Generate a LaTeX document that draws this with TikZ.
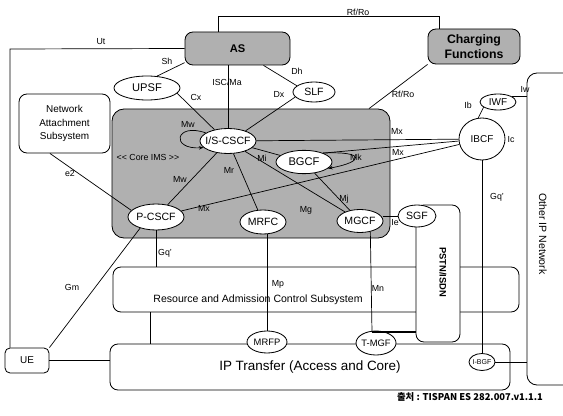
\documentclass[tikz,border=0pt]{standalone}
\usepackage{fontspec}
\setmainfont{Liberation Sans}
\newfontfamily\krfont{Noto Sans CJK KR}
\usetikzlibrary{shapes.geometric,arrows.meta}
\definecolor{hatch}{gray}{0.69}
\newcommand\zw[1]{\makebox[0pt]{#1}}
\begin{document}
\begin{tikzpicture}[x=0.3mm,y=-0.3mm,
  every node/.style={inner sep=0pt},
  ln/.style={line width=0.6pt},
  box/.style={draw, line width=0.7pt, rectangle, rounded corners=2.4mm, inner sep=0pt},
  hbox/.style={box, fill=hatch},
  ell/.style={draw, line width=0.7pt, ellipse, fill=white, inner sep=0pt, font=\fontsize{9}{10}\selectfont},
  lab/.style={font=\fontsize{7.5}{8}\selectfont},
  selfloop/.style={ln, -{Stealth[length=4pt,width=3pt]}}
]
\useasboundingbox (0,0) rectangle (563,416);
\fill[white] (0,0) rectangle (563,416);
% boxes
\node[box, minimum width=18.9mm, minimum height=93.6mm, rounded corners=3mm] (oipn) at (558.5,229) {};
\node[hbox, minimum width=31.5mm, minimum height=9.9mm, font=\fontsize{9.5}{11}\selectfont\bfseries] (as) at (237.5,48.5) {AS};
\node[hbox, minimum width=27.6mm, minimum height=10.5mm, align=center, font=\fontsize{10.5}{12.8}\selectfont\bfseries] (cf) at (474,46.5) {Charging\\Functions};
\node[box, minimum width=27.3mm, minimum height=17.7mm, align=center, font=\fontsize{8.5}{11.5}\selectfont] (nas) at (64.5,123.5) {Network\\Attachment\\Subsystem};
\node[hbox, minimum width=83.4mm, minimum height=38.7mm, rounded corners=3.6mm] (core) at (251,173.5) {};
\node[box, minimum width=121.8mm, minimum height=13.5mm] (racs) at (316,289.5) {};
\node[box, minimum width=120mm, minimum height=13.8mm, font=\fontsize{11.5}{13}\selectfont] (ip) at (310,367) {IP Transfer (Access and Core)};
\node[box, fill=white, minimum width=13.2mm, minimum height=41.1mm] (pstn) at (438,273.5) {};
\node[box, rounded corners=1.5mm, minimum width=13.2mm, minimum height=7.5mm, font=\fontsize{8.5}{10}\selectfont] (ue) at (27,360.5) {UE};
% ellipses
\node[ell, minimum width=19.8mm, minimum height=7.2mm, font=\fontsize{9.5}{10}\selectfont] (upsf) at (147,88) {\zw{UPSF}};
\node[ell, minimum width=12.6mm, minimum height=6mm] (slf) at (314,92) {\zw{SLF}};
\node[ell, minimum width=10.8mm, minimum height=4.8mm, font=\fontsize{8.5}{9}\selectfont] (iwf) at (498,102) {\zw{IWF}};
\node[ell, minimum width=16.8mm, minimum height=7.5mm] (iscscf) at (228,141) {\zw{I/S-CSCF}};
\node[ell, minimum width=16.8mm, minimum height=7mm, font=\fontsize{9.5}{10}\selectfont] (bgcf) at (304,162) {\zw{BGCF}};
\node[ell, minimum width=16.8mm, minimum height=7.8mm] (pcscf) at (156,217) {\zw{P-CSCF}};
\node[ell, minimum width=13.8mm, minimum height=7.2mm] (mrfc) at (263,222) {\zw{MRFC}};
\node[ell, minimum width=13.8mm, minimum height=6.9mm] (mgcf) at (360,221) {\zw{MGCF}};
\node[ell, minimum width=11.4mm, minimum height=6.6mm] (sgf) at (417,216) {\zw{SGF}};
\node[ell, minimum width=13.8mm, minimum height=12.6mm, font=\fontsize{8.5}{9}\selectfont] (ibcf) at (482,139) {\zw{IBCF}};
\node[ell, minimum width=12mm, minimum height=6.6mm, font=\fontsize{8}{9}\selectfont] (mrfp) at (267,342) {\zw{MRFP}};
\node[ell, minimum width=12mm, minimum height=7.2mm, font=\fontsize{8}{9}\selectfont] (tmgf) at (376,343) {\zw{T-MGF}};
\node[ell, minimum width=7.8mm, minimum height=5.1mm, font=\fontsize{6}{7}\selectfont] (ibgf) at (482,362) {\zw{I-BGF}};
% connectors
\coordinate (utc) at (10,49);
\draw[ln] (as.west) -- (utc) -- (utc |- ue.north);
\coordinate (rfa) at (218,16);
\coordinate (rfb) at (439,16);
\draw[ln] (rfa |- as.north) -- (rfa) -- (rfb) -- (rfb |- cf.north);
\draw[ln] (as.195) -- (upsf.50);
\draw[ln] (upsf.-10) -- (iscscf.140);
\draw[ln] (iscscf.north |- as.south) -- (iscscf.north);
\draw[ln] (as.-33) -- (slf.160);
\draw[ln] (slf.195) -- (iscscf.30);
\draw[ln] (cf.south west) -- (369,0 |- core.north);
\draw[ln] (iwf.20) -- (iwf.20 -| oipn.west);
\draw[ln] (iwf.200) -- (ibcf.100);
\draw[ln] (iscscf) -- (ibcf);
\draw[ln] (bgcf.25) -- (ibcf.185);
\draw[ln] (pcscf) -- (ibcf);
\draw[ln] (iscscf) -- (bgcf);
\draw[ln] (iscscf) -- (pcscf);
\draw[ln] (iscscf) -- (mrfc);
\draw[ln] (iscscf) -- (mgcf);
\draw[ln] (bgcf) -- (mgcf);
\draw[ln] (sgf.west) -- (sgf.west -| mgcf.east);
\draw[ln] (nas.-116) -- (pcscf.165);
\draw[ln] (pcscf.215) -- (ue.north east);
\draw[ln] (pcscf.south) -- (pcscf.south |- racs.north);
\draw[ln] (ibcf.south) -- (ibgf.north);
\draw[ln] (ibgf.east) -- (ibgf.east -| oipn.west);
\draw[ln] (ue.east) -- (ue.east -| ip.west);
\coordinate (rx) at (150,0);
\draw[ln] (rx |- racs.south) -- (rx |- ip.north);
\draw[ln] (mrfp.north) -- (mrfp.north |- mrfc.south);
\coordinate (tj) at (372,332);
\draw[ln] (mgcf.-46) -- (tj);
\draw[line width=1.6pt] (tj) -- (tj -| pstn.west);
\draw[selfloop] (iscscf.160) .. controls (175,122) and (170,150) .. (iscscf.195);
\draw[selfloop] (bgcf.25) .. controls (366,151) and (364,162) .. (bgcf.-15);
% labels
\node[lab] (lUt) at (101,42) {Ut};
\node[lab] (lRf1) at (358,12) {Rf/Ro};
\node[lab] (lSh) at (167,61) {Sh};
\node[lab] (lISC) at (227,82) {ISC/Ma};
\node[lab] (lCx) at (196,97) {Cx};
\node[lab] (lDh) at (297,71) {Dh};
\node[lab] (lDx) at (279,94) {Dx};
\node[lab] (lRf2) at (403,94) {Rf/Ro};
\node[lab] (lIw) at (525,89) {Iw};
\node[lab] (lIb) at (468,105) {Ib};
\node[lab] (lMw1) at (188,124) {Mw};
\node[lab] (lcore) at (148,157) {<{}< Core IMS >{}>};
\node[lab] (lMi) at (262,158) {Mi};
\node[lab] (lMx1) at (397,131) {Mx};
\node[lab] (lMx2) at (398,152) {Mx};
\node[lab] (lMk) at (356,157) {Mk};
\node[lab] (lIc) at (511,140) {Ic};
\node[lab] (le2) at (70,173) {e2};
\node[lab] (lMw2) at (180,179) {Mw};
\node[lab] (lMr) at (229,170) {Mr};
\node[lab] (lMx3) at (204,208) {Mx};
\node[lab] (lMg) at (306,210) {Mg};
\node[lab] (lMj) at (344,199) {Mj};
\node[lab] (lIe) at (395,223) {Ie};
\node[lab] (lGq1) at (497,197) {Gq'};
\node[lab] (lGq2) at (165,253) {Gq'};
\node[lab] (lGm) at (72,287) {Gm};
\node[lab] (lMp) at (278,284) {Mp};
\node[lab] (lMn) at (378,288) {Mn};
% free texts
\node[font=\fontsize{9}{10}\selectfont] (racstxt) at (258,300) {Resource and Admission Control Subsystem};
\node[rotate=-90, font=\fontsize{9}{10}\selectfont] (oipntxt) at (543,234) {Other IP Network};
\node[rotate=-90, font=\fontsize{8}{9}\selectfont\bfseries] (pstntxt) at (443,272) {PSTN/ISDN};
\node[font=\krfont\fontsize{8}{9}\selectfont\bfseries] (src) at (470,397) {출처 : TISPAN ES 282.007.v1.1.1};
\end{tikzpicture}
\end{document}
